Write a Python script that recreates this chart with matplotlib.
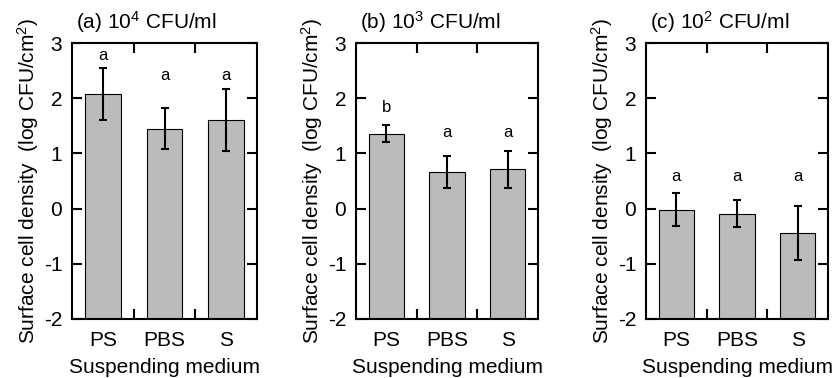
import numpy as np
import matplotlib
matplotlib.use("Agg")
import matplotlib.pyplot as plt

plt.rcParams['font.family'] = ['Liberation Sans', 'DejaVu Sans']
plt.rcParams['mathtext.default'] = 'regular'
plt.rcParams['axes.unicode_minus'] = False

media = ["PS", "PBS", "S"]
titles = ["(a) 10$^4$ CFU/ml", "(b) 10$^3$ CFU/ml", "(c) 10$^2$ CFU/ml"]

# mean log CFU/cm2 and error for each inoculum level
means_a = [2.07, 1.45, 1.60]
err_a = [0.47, 0.37, 0.56]
means_b = [1.36, 0.67, 0.71]
err_b = [0.15, 0.29, 0.34]
means_c = [-0.02, -0.09, -0.45]
err_c = [0.30, 0.24, 0.49]

# significance letters and where they sit
letters_a = ["a", "a", "a"]
letter_y_a = [2.78, 2.41, 2.41]
letters_b = ["b", "a", "a"]
letter_y_b = [1.83, 1.37, 1.37]
letters_c = ["a", "a", "a"]
letter_y_c = [0.59, 0.59, 0.59]

panels = [(means_a, err_a, letters_a, letter_y_a),
          (means_b, err_b, letters_b, letter_y_b),
          (means_c, err_c, letters_c, letter_y_c)]

W, H = 836, 378
boxes = [(72, 257), (356, 538), (646, 828)]
top, bottom = 43, 319
ymin = -2

fig = plt.figure(figsize=(W / 100, H / 100), dpi=100)

x = np.arange(len(media))
for i, (m, e, lt, ly) in enumerate(panels):
    l, r = boxes[i]
    ax = fig.add_axes([l / W, (H - bottom) / H, (r - l) / W, (bottom - top) / H])
    # bars rise from the bottom of the axis
    ax.bar(x, np.array(m) - ymin, bottom=ymin, width=0.58, color="#bbbbbb",
           edgecolor="black", linewidth=0.8, zorder=2)
    ax.errorbar(x, m, yerr=e, fmt="none", ecolor="black", elinewidth=1.5,
                capsize=3, capthick=1.5, zorder=3)
    for xi, s, yy in zip(x, lt, ly):
        ax.text(xi, yy, s, ha="center", va="center", fontsize=12)

    ax.set_xlim(-0.5, 2.5)
    ax.set_ylim(ymin, 3)
    ax.set_yticks([-2, -1, 0, 1, 2, 3])
    ax.set_xticks([0.5, 1.5])
    ax.set_xticklabels([])
    ax.set_xticks(x, minor=True)
    ax.set_xticklabels(media, minor=True)
    ax.tick_params(axis="x", which="minor", length=0, pad=9, labelsize=15)
    ax.tick_params(axis="x", which="major", direction="in", length=7, width=1.5,
                   top=True, bottom=True)
    ax.tick_params(axis="y", direction="in", length=7, width=1.5, left=True,
                   right=True, labelsize=15, pad=7)
    for sp in ax.spines.values():
        sp.set_linewidth(1.5)

    ax.set_xlabel("Suspending medium", fontsize=15, labelpad=5.5)
    ax.set_ylabel("Surface cell density  (log CFU/cm$^2$)", fontsize=15, labelpad=2)
    ax.text(0.02, 1.05, titles[i], transform=ax.transAxes, ha="left",
            va="baseline", fontsize=15)

fig.savefig("out.png", dpi=100)
